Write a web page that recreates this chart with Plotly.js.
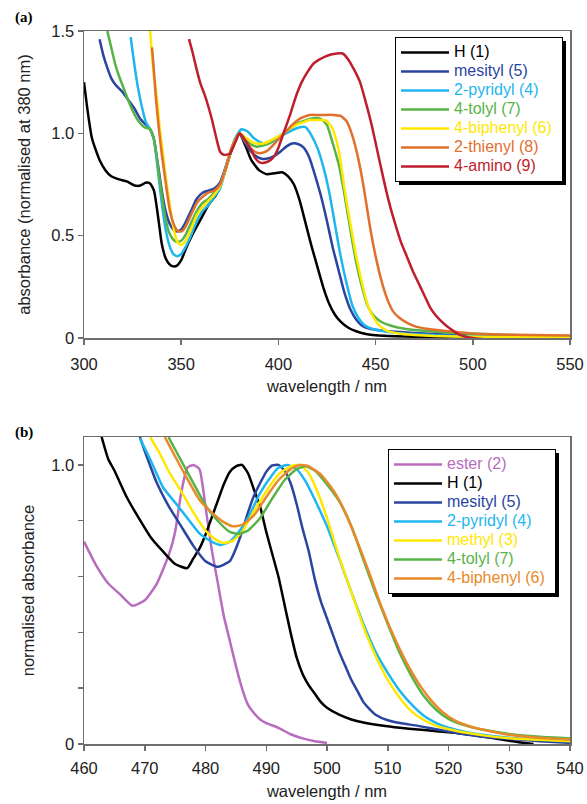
<!DOCTYPE html>
<html>
<head>
<meta charset="utf-8">
<script src="https://cdn.plot.ly/plotly-3.0.1.min.js"></script>
<style>html,body{margin:0;padding:0;background:#fff;}#chart{width:587px;height:804px;}</style>
</head>
<body>
<div id="chart"></div>
<script>
// ---------- Panel (a) data: absorbance normalised at 380 nm ----------
const a_H1_x = [300,302,304,306,308,311,314,318,322,326,329,332,334,336,338,340,342,344,346,348,350,353,356,360,364,368,372,376,380,383,386,390,394,398,402,405,408,411,414,417,420,423,426,429,432,436,440,445,450,460,480,500,520,550];
const a_H1_y = [1.25,1.10,0.98,0.92,0.87,0.82,0.79,0.775,0.765,0.745,0.745,0.76,0.755,0.72,0.60,0.46,0.39,0.36,0.35,0.355,0.38,0.45,0.51,0.58,0.65,0.70,0.80,0.92,1.0,0.94,0.87,0.82,0.80,0.805,0.81,0.79,0.75,0.67,0.56,0.45,0.35,0.25,0.17,0.115,0.08,0.05,0.033,0.02,0.013,0.008,0.005,0.003,0.002,0.0];

const a_mes5_x = [308,310,312,314,316,318,320,323,326,329,332,334,336,338,340,342,344,346,348,350,352,355,358,361,364,367,370,373,376,380,383,386,389,392,395,398,401,404,407,410,413,416,419,422,425,428,431,434,437,440,443,447,452,460,470,480,500,520,550];
const a_mes5_y = [1.46,1.38,1.32,1.27,1.24,1.22,1.20,1.16,1.12,1.07,1.04,1.02,0.97,0.85,0.72,0.62,0.56,0.53,0.52,0.53,0.56,0.62,0.68,0.71,0.72,0.73,0.76,0.84,0.93,1.0,0.95,0.91,0.885,0.875,0.878,0.89,0.91,0.935,0.95,0.948,0.93,0.88,0.79,0.69,0.57,0.44,0.33,0.22,0.14,0.09,0.06,0.045,0.038,0.03,0.025,0.02,0.012,0.008,0.004];

const a_pyr4_x = [324,326,328,330,332,334,336,338,340,342,344,346,348,350,352,355,358,361,364,367,370,373,376,378,381,384,387,390,393,396,399,402,405,408,411,414,417,420,423,426,429,432,435,438,441,444,448,453,460,470,480,500,520,550];
const a_pyr4_y = [1.47,1.33,1.21,1.12,1.05,1.02,0.97,0.82,0.66,0.53,0.45,0.41,0.40,0.41,0.44,0.50,0.57,0.62,0.65,0.69,0.73,0.83,0.93,0.98,1.02,1.01,0.98,0.96,0.95,0.955,0.97,0.99,1.005,1.02,1.03,1.03,0.99,0.93,0.84,0.72,0.56,0.40,0.27,0.16,0.10,0.065,0.045,0.035,0.025,0.018,0.013,0.008,0.005,0.003];

const a_tol7_x = [312,314,316,318,320,322,325,328,331,334,336,338,340,342,344,346,348,350,352,355,358,361,364,367,370,373,376,380,383,386,389,392,395,398,401,404,407,410,413,416,419,422,425,428,431,434,437,440,443,446,449,453,458,465,475,490,510,530,550];
const a_tol7_y = [1.50,1.42,1.34,1.28,1.23,1.18,1.11,1.06,1.03,1.02,0.97,0.84,0.70,0.58,0.51,0.48,0.47,0.475,0.50,0.56,0.62,0.66,0.68,0.71,0.745,0.83,0.93,1.0,0.97,0.945,0.935,0.94,0.95,0.97,0.99,1.01,1.03,1.05,1.06,1.07,1.075,1.07,1.04,0.95,0.85,0.70,0.53,0.37,0.25,0.155,0.11,0.078,0.06,0.045,0.035,0.025,0.018,0.012,0.008];

const a_biph6_x = [334,335,336,337,338,339,340,341,342,344,346,348,350,352,355,358,361,364,367,370,373,376,380,383,386,389,392,395,398,401,404,407,410,413,416,419,422,425,428,431,434,437,440,443,446,449,452,456,462,470,480,500,520,550];
const a_biph6_y = [1.50,1.38,1.28,1.21,1.13,1.02,0.95,0.87,0.79,0.66,0.54,0.47,0.455,0.47,0.53,0.60,0.64,0.67,0.70,0.74,0.83,0.93,1.0,0.98,0.96,0.95,0.95,0.96,0.975,0.99,1.01,1.03,1.045,1.055,1.065,1.065,1.065,1.06,1.02,0.92,0.73,0.56,0.40,0.27,0.16,0.10,0.06,0.035,0.022,0.015,0.01,0.006,0.004,0.003];

const a_thi8_x = [335,336,337,338,339,340,342,344,346,348,350,352,355,358,361,364,367,370,373,376,380,383,386,389,392,395,398,401,404,407,410,413,416,420,424,428,432,435,438,441,444,447,450,453,456,459,462,466,470,476,485,500,520,550];
const a_thi8_y = [1.42,1.30,1.17,1.07,0.98,0.90,0.76,0.63,0.56,0.525,0.52,0.54,0.60,0.66,0.69,0.71,0.72,0.75,0.83,0.93,1.0,0.96,0.925,0.905,0.905,0.92,0.95,0.98,1.01,1.04,1.065,1.08,1.09,1.09,1.09,1.09,1.085,1.06,0.99,0.88,0.73,0.55,0.40,0.28,0.19,0.13,0.10,0.075,0.058,0.045,0.035,0.022,0.016,0.012];

const a_ami9_x = [354,356,358,360,362,364,366,368,370,372,375,378,380,382,384,386,388,390,392,394,396,398,400,403,406,409,412,415,418,421,424,427,430,433,436,439,442,445,448,451,454,457,460,463,466,469,472,475,478,481,484,487,490,493,496,500,505];
const a_ami9_y = [1.46,1.39,1.31,1.24,1.19,1.13,1.06,0.98,0.91,0.895,0.90,0.96,1.0,0.98,0.95,0.92,0.88,0.86,0.855,0.86,0.87,0.89,0.93,1.01,1.09,1.18,1.25,1.30,1.34,1.36,1.375,1.385,1.39,1.39,1.36,1.31,1.25,1.15,1.04,0.91,0.78,0.66,0.56,0.47,0.40,0.33,0.27,0.21,0.15,0.11,0.08,0.055,0.035,0.017,0.007,0.0,-0.005];

// ---------- Panel (b) data: normalised absorbance ----------
const b_est2_x = [460,462,464,466,468,470,472,474,475,476,477,478,479,480,481,482,483,484,485,486,487,488,489,490,492,494,496,498,500];
const b_est2_y = [0.725,0.64,0.575,0.535,0.495,0.515,0.575,0.68,0.76,0.90,0.99,1.0,0.985,0.85,0.70,0.58,0.46,0.37,0.28,0.20,0.14,0.11,0.088,0.075,0.058,0.035,0.02,0.01,0.004];

const b_H1_x = [462.9,464,465,467,469,471,473,475,477,478,479,480,481,482,483,484,485,486,487,488,489,490,491,492,493,494,495,496,497,498,499,500,502,504,506,509,512,515,518,521,524,527,530,532,534];
const b_H1_y = [1.1,1.02,0.98,0.886,0.81,0.74,0.69,0.645,0.63,0.665,0.70,0.75,0.81,0.87,0.93,0.975,0.995,1.0,0.97,0.91,0.85,0.76,0.68,0.60,0.50,0.40,0.31,0.25,0.21,0.18,0.15,0.13,0.105,0.088,0.077,0.066,0.058,0.052,0.046,0.04,0.032,0.022,0.012,0.005,0.0];

const b_mes5_x = [469.2,470,472,474,476,478,480,482,484,485,486,487,488,489,490,491,492,493,494,495,496,497,498,499,500,501,502,503,504,505,506,507,508,510,512,515,520,525,530,535,540];
const b_mes5_y = [1.1,1.05,0.935,0.85,0.78,0.71,0.655,0.635,0.655,0.70,0.76,0.83,0.89,0.935,0.975,0.998,1.0,0.98,0.935,0.86,0.77,0.69,0.59,0.51,0.45,0.39,0.33,0.28,0.23,0.19,0.15,0.125,0.105,0.085,0.075,0.065,0.045,0.028,0.018,0.01,0.004];

const b_pyr4_x = [469.2,471,473,475,477,479,481,482.5,484,485.5,487,489,491,492,493.5,495,496.5,498,500,502,504,506,508,510,512,514,516,518,520,523,526,530,535,540];
const b_pyr4_y = [1.095,1.015,0.92,0.865,0.81,0.755,0.725,0.713,0.725,0.76,0.81,0.90,0.965,0.99,1.0,0.985,0.94,0.875,0.78,0.665,0.545,0.43,0.33,0.255,0.19,0.14,0.10,0.075,0.058,0.042,0.032,0.022,0.016,0.012];

const b_met3_x = [470.9,472.5,474,476,478,480,481.5,483,484.5,486,488,490,492,494,495.5,497,498.5,500,502,504,506,508,510,512,514,516,518,520,523,526,530,535,540];
const b_met3_y = [1.1,1.04,0.975,0.905,0.83,0.765,0.735,0.72,0.728,0.76,0.835,0.905,0.965,0.995,1.0,0.97,0.90,0.81,0.67,0.545,0.42,0.315,0.23,0.165,0.115,0.085,0.065,0.053,0.04,0.03,0.021,0.015,0.01];

const b_tol7_x = [473.9,476,478,480,482,484,485.5,487,489,491,493,495,496.5,498,500,502,504,506,508,510,512,514,516,518,520,523,526,530,535,540];
const b_tol7_y = [1.1,1.015,0.935,0.855,0.80,0.76,0.753,0.765,0.81,0.88,0.945,0.985,0.995,0.98,0.93,0.87,0.78,0.66,0.54,0.43,0.325,0.24,0.17,0.122,0.09,0.065,0.05,0.036,0.026,0.02];

const b_biph6_x = [473.3,475,477,479,481,483,484.5,486,488,490,492,494,495.5,497,499,501,503,505,507,509,511,513,515,517,519,521,524,527,530,535,540];
const b_biph6_y = [1.1,1.03,0.95,0.875,0.83,0.795,0.78,0.785,0.82,0.885,0.945,0.985,1.0,0.995,0.965,0.91,0.83,0.725,0.61,0.49,0.385,0.295,0.22,0.16,0.115,0.085,0.06,0.045,0.033,0.022,0.015];

// ---------- Labels & ticks ----------
const a_names = ['H (1)','mesityl (5)','2-pyridyl (4)','4-tolyl (7)','4-biphenyl (6)','2-thienyl (8)','4-amino (9)'];
const b_names = ['ester (2)','H (1)','mesityl (5)','2-pyridyl (4)','methyl (3)','4-tolyl (7)','4-biphenyl (6)'];
const a_xticks = [300,350,400,450,500,550];
const a_yticks = [0,0.5,1.0,1.5];
const a_yticktext = ['0','0.5','1.0','1.5'];
const b_xticks = [460,470,480,490,500,510,520,530,540];
const b_yticks = [0,0.2,0.4,0.6,0.8,1.0];
const b_yticktext = ['0','','','','','1.0'];

// ---------- Styles ----------
const a_colors = ['#000000','#2a45a0','#1eb6ee','#58b347','#ffe800','#e0702c','#be1e2d'];
const b_colors = ['#b86cbd','#000000','#2a45a0','#1eb6ee','#ffe800','#58b347','#e88a2a'];
const FONT = 'Liberation Sans, Arial, Helvetica, sans-serif';

const aX = [a_H1_x,a_mes5_x,a_pyr4_x,a_tol7_x,a_biph6_x,a_thi8_x,a_ami9_x];
const aY = [a_H1_y,a_mes5_y,a_pyr4_y,a_tol7_y,a_biph6_y,a_thi8_y,a_ami9_y];
const bX = [b_est2_x,b_H1_x,b_mes5_x,b_pyr4_x,b_met3_x,b_tol7_x,b_biph6_x];
const bY = [b_est2_y,b_H1_y,b_mes5_y,b_pyr4_y,b_met3_y,b_tol7_y,b_biph6_y];

function label(name, color){
  return '<span style="font-size:16px;color:' + color + '">' + name + '&nbsp;</span>';
}

const traces = [];
aX.forEach((xs,i)=>{
  traces.push({x:xs, y:aY[i], type:'scatter', mode:'lines', name:label(a_names[i], a_colors[i]),
    line:{color:a_colors[i], width:2.5, shape:'spline', smoothing:0.5}, xaxis:'x', yaxis:'y', legend:'legend'});
});
bX.forEach((xs,i)=>{
  traces.push({x:xs, y:bY[i], type:'scatter', mode:'lines', name:label(b_names[i], b_colors[i]),
    line:{color:b_colors[i], width:2.5, shape:'spline', smoothing:0.5}, xaxis:'x2', yaxis:'y2', legend:'legend2'});
});

const axisCommon = {
  showline:true, mirror:true, linecolor:'#6e6e6e', linewidth:1.5,
  ticks:'outside', ticklen:5, tickwidth:1.5, tickcolor:'#6e6e6e',
  showgrid:false, zeroline:false,
  tickfont:{family:FONT, size:16.5, color:'#222'}
};
const titleFont = {family:FONT, size:16.5, color:'#222'};

// paper coordinate helpers (plot area: x 84..570, y 31..744 px)
const px = v => (v-84)/486;
const py = v => (744-v)/713;

const layout = {
  width:587, height:804,
  margin:{l:84, r:17, t:31, b:60},
  paper_bgcolor:'#fff', plot_bgcolor:'#fff',
  font:{family:FONT, size:15, color:'#222'},
  showlegend:true,
  xaxis:Object.assign({}, axisCommon, {anchor:'y', domain:[0,1], range:[300,550], tickvals:a_xticks, ticklabelstandoff:6,
    title:{text:'wavelength / nm', font:titleFont, standoff:8}}),
  yaxis:Object.assign({}, axisCommon, {anchor:'x', domain:[py(338),1], range:[0,1.5], tickvals:a_yticks, ticktext:a_yticktext,
    title:{text:'absorbance (normalised at 380 nm)', font:titleFont, standoff:16}}),
  xaxis2:Object.assign({}, axisCommon, {anchor:'y2', domain:[0,1], range:[460,540], tickvals:b_xticks, ticklabelstandoff:4,
    title:{text:'wavelength / nm', font:titleFont, standoff:9}}),
  yaxis2:Object.assign({}, axisCommon, {anchor:'x2', domain:[0,py(437)], range:[0,1.1], tickvals:b_yticks, ticktext:b_yticktext,
    title:{text:'normalised absorbance', font:titleFont, standoff:12}}),
  legend:{x:px(395), y:py(37), xanchor:'left', yanchor:'top', bgcolor:'#fff', bordercolor:'#000', borderwidth:1,
    font:{family:FONT, size:11.5, color:'#000'}, itemwidth:48, tracegroupgap:0, traceorder:'normal'},
  legend2:{x:px(388), y:py(449), xanchor:'left', yanchor:'top', bgcolor:'#fff', bordercolor:'#000', borderwidth:1,
    font:{family:FONT, size:11.5, color:'#000'}, itemwidth:48, tracegroupgap:0, traceorder:'normal'},
  annotations:[
    {text:'<b>(a)</b>', xref:'paper', yref:'paper', x:px(24), y:py(17), xanchor:'center', yanchor:'middle', showarrow:false,
      font:{family:'Liberation Serif, Times New Roman, serif', size:15, color:'#000'}},
    {text:'<b>(b)</b>', xref:'paper', yref:'paper', x:px(24), y:py(432), xanchor:'center', yanchor:'middle', showarrow:false,
      font:{family:'Liberation Serif, Times New Roman, serif', size:15, color:'#000'}}
  ]
};

Plotly.newPlot('chart', traces, layout, {displayModeBar:false, staticPlot:true}).then(gd => {
  // drop shadow behind each legend box, sized from the rendered legend
  const off = gd.getBoundingClientRect();
  const shapes = [];
  gd.querySelectorAll('.infolayer rect.bg').forEach(r => {
    if (r.closest('.annotation')) return;
    const b = r.getBoundingClientRect();
    const L = b.left - off.left, R = b.right - off.left, T = b.top - off.top, B = b.bottom - off.top;
    shapes.push({type:'rect', xref:'paper', yref:'paper', x0:px(L+3.5), x1:px(R+3.5), y0:py(B+3.5), y1:py(T+3.5),
      fillcolor:'#000', line:{width:0}, layer:'above'});
  });
  return Plotly.relayout(gd, {shapes:shapes});
});
</script>
</body>
</html>
